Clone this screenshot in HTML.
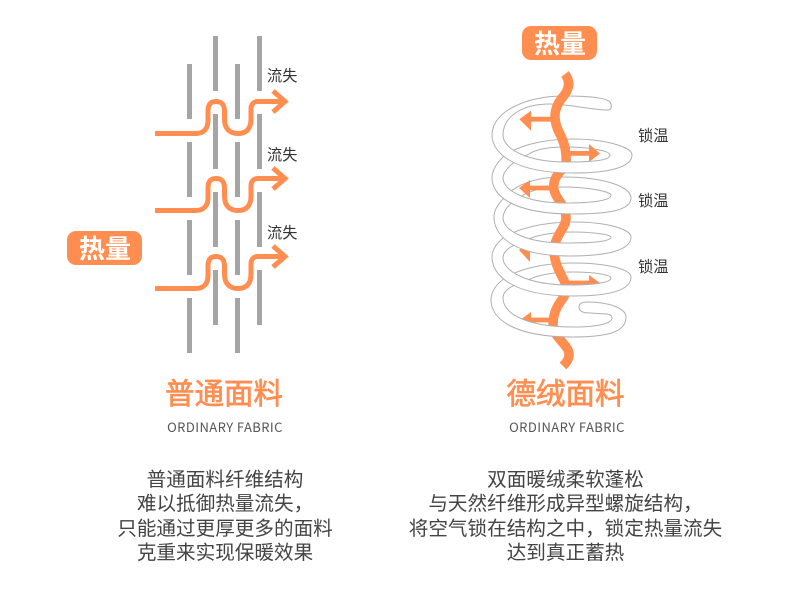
<!DOCTYPE html>
<html>
<head>
<meta charset="utf-8">
<style>
html,body{margin:0;padding:0;background:#fff}
svg{display:block}
text{font-family:"Liberation Sans","Noto Sans CJK SC",sans-serif}
.cn{font-family:"Noto Sans CJK SC",sans-serif}
.b{fill:none;stroke:#b0b0b0;stroke-width:1}
.fl{fill:#fff;stroke:none}
.o{fill:#FF8E50}
.t{font-size:19.6px;fill:#444;text-anchor:middle}
.h{font-size:29.5px;fill:#FF8E50;text-anchor:middle;font-weight:400;stroke:#FF8E50;stroke-width:.7px}
.s{font-size:13px;fill:#555;text-anchor:middle;letter-spacing:.42px}
.l{font-size:15.2px;fill:#333}
.p{font-size:26px;fill:#fff;font-weight:700;text-anchor:middle}
</style>
</head>
<body>
<svg width="790" height="607" viewBox="0 0 790 607" xmlns="http://www.w3.org/2000/svg">
<rect width="790" height="607" fill="#fff"/>

<!-- left bars -->
<g fill="#a5a5a5">
<rect x="187" y="64" width="5" height="55"/><rect x="187" y="142" width="5" height="55"/><rect x="187" y="220" width="5" height="55"/><rect x="187" y="298" width="5" height="55"/>
<rect x="213" y="36" width="5" height="55"/><rect x="213" y="114" width="5" height="55"/><rect x="213" y="192" width="5" height="55"/><rect x="213" y="270" width="5" height="55"/>
<rect x="235" y="64" width="5" height="55"/><rect x="235" y="142" width="5" height="55"/><rect x="235" y="220" width="5" height="55"/><rect x="235" y="298" width="5" height="55"/>
<rect x="257" y="36" width="5" height="55"/><rect x="257" y="114" width="5" height="55"/><rect x="257" y="192" width="5" height="55"/><rect x="257" y="270" width="5" height="55"/>
</g>

<!-- left flows -->
<g fill="none" stroke="#FF8E50" stroke-width="5">
<g>
<path d="M155 133.5H196C204 133.5 208 128 208 121V111C208 104 211 101.5 216 101.5C221 101.5 224.5 104 224.5 111V119C224.5 129 230 133.5 238 133.5C246 133.5 251 129 251 119V109C251 104 254 101.5 258 101.5H285"/>
<path d="M273 91L285 101.5L273 112" stroke-miterlimit="6"/>
</g>
<g transform="translate(0,77)">
<path d="M155 133.5H196C204 133.5 208 128 208 121V111C208 104 211 101.5 216 101.5C221 101.5 224.5 104 224.5 111V119C224.5 129 230 133.5 238 133.5C246 133.5 251 129 251 119V109C251 104 254 101.5 258 101.5H285"/>
<path d="M273 91L285 101.5L273 112" stroke-miterlimit="6"/>
</g>
<g transform="translate(0,155)">
<path d="M155 133.5H196C204 133.5 208 128 208 121V111C208 104 211 101.5 216 101.5C221 101.5 224.5 104 224.5 111V119C224.5 129 230 133.5 238 133.5C246 133.5 251 129 251 119V109C251 104 254 101.5 258 101.5H285"/>
<path d="M273 91L285 101.5L273 112" stroke-miterlimit="6"/>
</g>
</g>

<text class="l" x="267" y="81">流失</text>
<text class="l" x="267" y="160">流失</text>
<text class="l" x="267" y="238">流失</text>

<rect x="67" y="231" width="75" height="34" rx="9" fill="#FF8E50"/>
<text class="p" x="105" y="258">热量</text>

<rect x="522" y="26" width="75" height="34" rx="9" fill="#FF8E50"/>
<text class="p" x="560" y="53">热量</text>

<!-- coil back bands -->
<g class="b">
<path d="M492 135C492 112 525 96 565 96C585 96 605 97 610 102C612 105 612 110 608 110C590 110 570 104 550 104C520 104 503 118 503 135"/>
<path d="M632 155C632 147 605 139 573 139C540 139 515 147 503 157C497 163 492 170 492 178"/>
<path d="M610 155C610 151 590 147 565 147C545 147 535 150 527 155C515 160 503 170 503 178"/>
<path d="M631 198C631 187 605 177 563 177C535 177 515 185 505 197C498 204 494 210 494 217"/>
<path d="M611 195C611 192 590 187 563 187C545 187 530 190 520 197C510 203 503 210 503 218"/>
<path d="M631 237C631 230 610 222 573 222C540 222 515 230 503 238C496 244 492 250 492 257"/>
<path d="M611 237C611 235 595 232 573 232C555 232 535 235 527 240C512 245 503 250 503 258"/>
<path d="M631 277C631 270 610 263 573 263C540 263 518 270 505 278C496 284 491 292 491 300"/>
<path d="M611 278C611 275 595 272 573 272C555 272 535 275 527 281C512 285 503 290 503 298"/>
</g>

<!-- orange thread -->
<path d="M565 74C571 82 569 90 562 98C554 108 553 118 558 130C563 140 567 148 566 165C560 172 552 178 554 190C556 200 566 205 566 218C566 228 555 235 554 250C554 265 562 275 566 285C566 290 565 296 563 298C558 305 553 312 553 325C553 335 564 342 568 350C571 357 567 362 563 366" fill="none" stroke="#FF8E50" stroke-width="9.5"/>
<g class="o">
<path d="M556 116.8H531V110.7L519.3 119.3L531 130.7V121.6H556Z"/>
<path d="M564 151H589V144L600 153.5L589 162V155.8H564Z"/>
<path d="M556 185.6H530V180L519 188L530 198V190.4H556Z"/>
<path d="M556 247.6H530V241L519 250L530 262V252.4H556Z"/>
<path d="M562 280.6H589V275L600 283L589 292V285.4H562Z"/>
<path d="M556 317.6H531V312L520 320L531 330V322.4H556Z"/>
</g>

<!-- coil front bands, bottom to top -->
<path fill="#fff" stroke="#b0b0b0" stroke-width="1" d="M491 300C491 318 512 337 573 337C608 337 626 332 626 317C626 308 608 302 587 302C581 302 579 304 579 307C579 311 583 313 590 313L607 314C611 315 612 316 612 318C612 323 600 327 573 327C530 327 503 315 503 298"/>

<path class="fl" d="M492 257C492 275 512 296 573 296C610 296 631 290 631 277L611 278C611 283 592 285 570 285C525 285 503 270 503 258Z"/>
<path class="b" d="M492 257C492 275 512 296 573 296C610 296 631 290 631 277M503 258C503 270 525 285 570 285C592 285 611 283 611 278"/>

<path class="fl" d="M494 217C494 235 512 256 570 256C608 256 631 250 631 237L611 237C611 242 590 243 565 243C525 243 503 230 503 218Z"/>
<path class="b" d="M494 217C494 235 512 256 570 256C608 256 631 250 631 237M503 218C503 230 525 243 565 243C590 243 611 242 611 237"/>

<path class="fl" d="M492 178C492 195 512 214 573 214C610 214 631 210 631 198L611 195C611 201 590 203 565 203C525 203 503 190 503 178Z"/>
<path class="b" d="M492 178C492 195 512 214 573 214C610 214 631 210 631 198M503 178C503 190 525 203 565 203C590 203 611 201 611 195"/>

<path class="fl" d="M492 135C492 152 512 173 573 173C610 173 632 167 632 155L610 155C610 161 590 162 565 162C530 162 503 150 503 135Z"/>
<path class="b" d="M492 135C492 152 512 173 573 173C610 173 632 167 632 155M503 135C503 150 530 162 565 162C590 162 610 161 610 155"/>

<text class="l" x="638" y="141">锁温</text>
<text class="l" x="638" y="206">锁温</text>
<text class="l" x="638" y="272">锁温</text>

<!-- titles -->
<text class="h cn" x="224" y="404">普通面料</text>
<text class="h cn" x="565.5" y="404">德绒面料</text>
<text class="s cn" x="225" y="432">ORDINARY FABRIC</text>
<text class="s cn" x="567" y="432">ORDINARY FABRIC</text>

<!-- body -->
<text class="t cn" x="225" y="486">普通面料纤维结构</text>
<text class="t cn" x="225" y="510">难以抵御热量流失，</text>
<text class="t cn" x="225" y="535">只能通过更厚更多的面料</text>
<text class="t cn" x="225" y="559">克重来实现保暖效果</text>

<text class="t cn" x="565.5" y="486">双面暖绒柔软蓬松</text>
<text class="t cn" x="565.5" y="510">与天然纤维形成异型螺旋结构，</text>
<text class="t cn" x="565.5" y="535">将空气锁在结构之中，锁定热量流失</text>
<text class="t cn" x="565.5" y="559">达到真正蓄热</text>
</svg>
</body>
</html>
